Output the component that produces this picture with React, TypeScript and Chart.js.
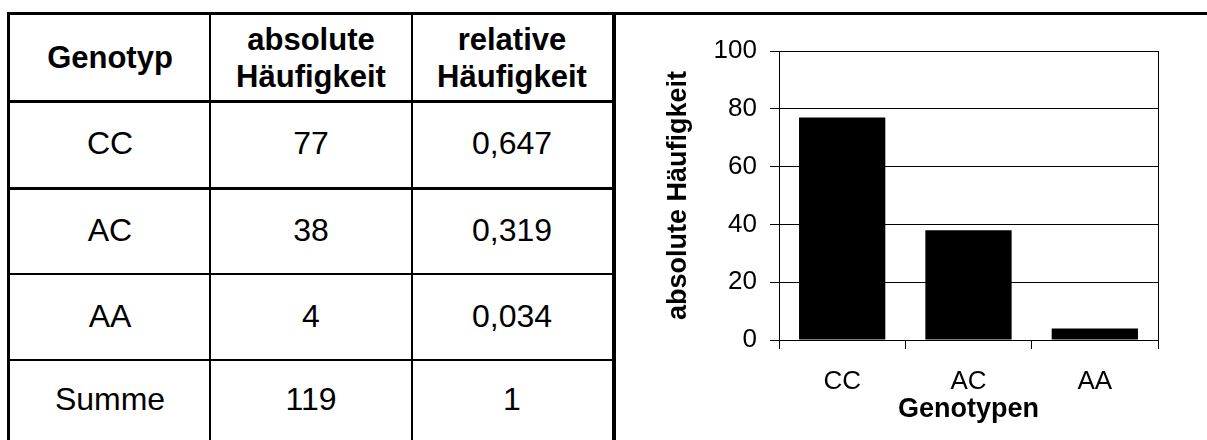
import React, { useEffect, useRef } from 'react';
import { Chart, registerables } from 'chart.js';

Chart.register(...registerables);

// ---- data ----
const genotypes = ['CC', 'AC', 'AA'];
const absoluteCounts = [77, 38, 4];
const relativeFreqs = ['0,647', '0,319', '0,034'];
const sumLabel = 'Summe';
const sumAbsolute = '119';
const sumRelative = '1';
const headerLines = [['Genotyp'], ['absolute', 'Häufigkeit'], ['relative', 'Häufigkeit']];
const yTickMin = 0;
const yTickMax = 100;
const yTickStep = 20;
const yTitle = 'absolute Häufigkeit';
const xTitle = 'Genotypen';

const FONT = '"Liberation Sans", Arial, Helvetica, sans-serif';

// table geometry (page px)
const colX = [10, 210, 412, 612];
const rowY = [15, 100, 187, 273, 359, 440];

const framePlugin = {
  id: 'frame',
  afterDraw(chart: any) {
    const { ctx, chartArea } = chart;
    const x = Math.round(chartArea.right) + 0.5;
    ctx.save();
    ctx.strokeStyle = '#000';
    ctx.lineWidth = 1;
    ctx.beginPath();
    ctx.moveTo(x, Math.round(chartArea.top));
    ctx.lineTo(x, Math.round(chartArea.bottom));
    ctx.stroke();
    ctx.restore();
  },
};

function ChartCanvas() {
  const ref = useRef<HTMLCanvasElement>(null);
  useEffect(() => {
    if (!ref.current) return;
    const chart = new Chart(ref.current, {
      type: 'bar',
      data: {
        labels: genotypes,
        datasets: [
          {
            data: absoluteCounts,
            backgroundColor: '#000',
            borderWidth: 0,
            barPercentage: 0.683,
            categoryPercentage: 1,
          },
        ],
      },
      options: {
        responsive: false,
        animation: false,
        events: [],
        layout: { padding: { top: 36, right: 49, left: 0, bottom: 0 } },
        plugins: { legend: { display: false }, tooltip: { enabled: false }, title: { display: false } },
        scales: {
          x: {
            afterFit: (s: any) => {
              s.height = 100;
            },
            grid: {
              drawOnChartArea: false,
              drawTicks: true,
              tickLength: 9,
              color: '#000',
              lineWidth: 1,
              offset: true,
            },
            border: { display: true, color: '#000', width: 1 },
            ticks: {
              color: '#000',
              padding: 17,
              font: { family: FONT, size: 26 },
              maxRotation: 0,
            },
            title: {
              display: true,
              text: xTitle,
              color: '#000',
              font: { family: FONT, size: 27, weight: 'bold' },
              padding: { top: 0, bottom: 14 },
            },
          },
          y: {
            min: yTickMin,
            max: yTickMax,
            afterFit: (s: any) => {
              s.width = 163;
            },
            grid: {
              drawOnChartArea: true,
              drawTicks: true,
              tickLength: 9,
              color: '#000',
              lineWidth: 1,
            },
            border: { display: true, color: '#000', width: 1 },
            ticks: {
              stepSize: yTickStep,
              color: '#000',
              padding: 13,
              font: { family: FONT, size: 26 },
            },
            title: {
              display: true,
              text: yTitle,
              color: '#000',
              font: { family: FONT, size: 27, weight: 'bold' },
              padding: { top: 46, bottom: 0 },
            },
          },
        },
      },
      plugins: [framePlugin],
    } as any);
    return () => chart.destroy();
  }, []);
  return (
    <canvas
      ref={ref}
      width={591}
      height={425}
      style={{ position: 'absolute', left: 616, top: 15, width: 591, height: 425, display: 'block' }}
    />
  );
}

function Line({ x, y, w, h }: { x: number; y: number; w: number; h: number }) {
  return <div style={{ position: 'absolute', left: x, top: y, width: w, height: h, background: '#000' }} />;
}

function Cell({ c, r, lines, bold }: { c: number; r: number; lines: string[]; bold?: boolean }) {
  return (
    <div
      style={{
        position: 'absolute',
        left: colX[c],
        top: rowY[r],
        width: colX[c + 1] - colX[c],
        height: rowY[r + 1] - rowY[r],
        display: 'flex',
        flexDirection: 'column',
        alignItems: 'center',
        justifyContent: 'center',
        fontFamily: FONT,
        fontWeight: bold ? 'bold' : 'normal',
        fontSize: bold ? 31 : 32,
        lineHeight: '37px',
        color: '#000',
        textAlign: 'center',
      }}
    >
      {lines.map((l, i) => (
        <div key={i}>{l}</div>
      ))}
    </div>
  );
}

export default function App() {
  const bodyRows = genotypes.map((g, i) => [g, String(absoluteCounts[i]), relativeFreqs[i]]);
  bodyRows.push([sumLabel, sumAbsolute, sumRelative]);
  return (
    <div style={{ position: 'absolute', left: 0, top: 0, width: 1207, height: 440, overflow: 'hidden', background: '#fff' }}>
      {headerLines.map((h, c) => (
        <Cell key={'h' + c} c={c} r={0} lines={h} bold />
      ))}
      {bodyRows.map((row, r) =>
        row.map((v, c) => <Cell key={r + '-' + c} c={c} r={r + 1} lines={[v]} />)
      )}
      {/* borders */}
      <Line x={7} y={12} w={1200} h={3} />
      <Line x={7} y={12} w={3} h={428} />
      <Line x={612} y={12} w={4} h={428} />
      <Line x={209} y={15} w={2} h={425} />
      <Line x={411} y={15} w={2} h={425} />
      <Line x={10} y={100} w={602} h={3} />
      <Line x={10} y={187} w={602} h={3} />
      <Line x={10} y={273} w={602} h={2} />
      <Line x={10} y={359} w={602} h={2} />
      <ChartCanvas />
    </div>
  );
}
